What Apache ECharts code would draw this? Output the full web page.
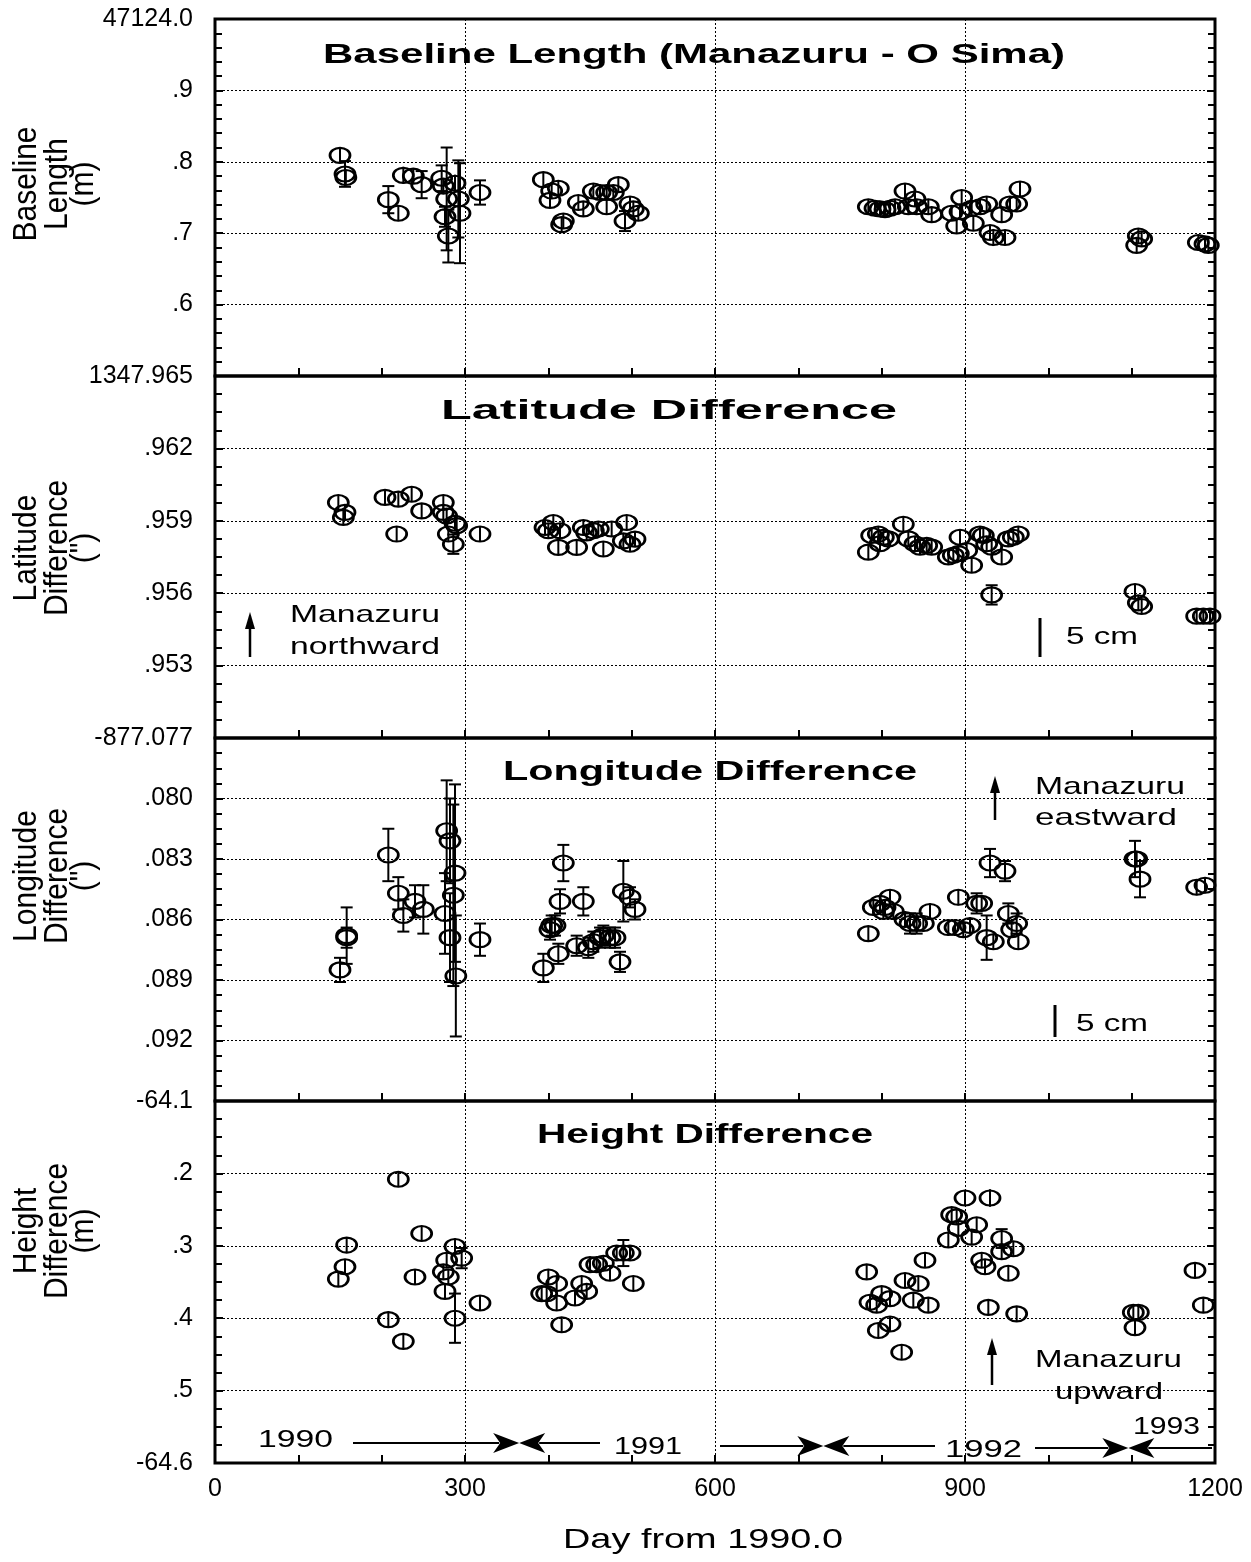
<!DOCTYPE html>
<html>
<head>
<meta charset="utf-8">
<script src="https://cdn.jsdelivr.net/npm/echarts@6/dist/echarts.min.js"></script>
<style>
  html, body { margin: 0; background: #fff; }
  #chart { width: 1251px; height: 1562px; }
</style>
</head>
<body>
<div id="chart"></div>
<script>
// [day from 1990.0, value, error]  values are offsets from the printed base
// baseline length: 47124 + v (m)
const baselineData = [
  [150, 0.809, 0.004], [156, 0.783, 0.018], [157, 0.778, 0.008], [208, 0.747, 0.019],
  [220, 0.728, 0.011], [226, 0.781, 0.012], [238, 0.780, 0.010], [248, 0.768, 0.019],
  [272, 0.777, 0.018], [274, 0.766, 0.010], [278, 0.748, 0.072], [276, 0.723, 0.014],
  [280, 0.696, 0.037], [288, 0.770, 0.012], [292, 0.748, 0.054], [294, 0.728, 0.070],
  [318, 0.757, 0.017],
  [394, 0.775, 0.006], [402, 0.746, 0.006], [404, 0.759, 0.006], [412, 0.763, 0.006],
  [416, 0.712, 0.006], [418, 0.717, 0.006], [436, 0.743, 0.006], [442, 0.734, 0.010],
  [454, 0.759, 0.005], [462, 0.757, 0.005], [470, 0.757, 0.005], [478, 0.757, 0.005],
  [470, 0.737, 0.008], [484, 0.768, 0.005], [492, 0.717, 0.014], [498, 0.741, 0.006],
  [502, 0.734, 0.006], [508, 0.728, 0.006],
  [784, 0.737, 0.004], [792, 0.735, 0.004], [798, 0.734, 0.004], [804, 0.733, 0.004],
  [810, 0.735, 0.004], [816, 0.737, 0.004], [828, 0.759, 0.006], [832, 0.737, 0.005],
  [840, 0.748, 0.005], [842, 0.737, 0.005], [856, 0.737, 0.005], [860, 0.726, 0.005],
  [884, 0.728, 0.005], [890, 0.710, 0.005], [894, 0.730, 0.005], [896, 0.750, 0.007],
  [908, 0.735, 0.005], [910, 0.714, 0.005], [918, 0.737, 0.005], [926, 0.741, 0.005],
  [930, 0.701, 0.005], [934, 0.694, 0.012], [944, 0.726, 0.005], [948, 0.694, 0.005],
  [954, 0.741, 0.005], [962, 0.741, 0.005], [966, 0.762, 0.005],
  [1106, 0.683, 0.004], [1108, 0.696, 0.004], [1112, 0.692, 0.004],
  [1180, 0.687, 0.004], [1188, 0.685, 0.004], [1192, 0.683, 0.004]
];

// latitude difference: 1347 + v (")
const latitudeData = [
  [148, 0.95976, 0.0002], [156, 0.95935, 0.0003], [154, 0.95914, 0.0002], [204, 0.95997, 0.0002],
  [220, 0.95990, 0.0002], [236, 0.96010, 0.0002], [248, 0.95941, 0.0002], [218, 0.95845, 0.0002],
  [274, 0.95976, 0.0003], [274, 0.95935, 0.0002], [278, 0.95920, 0.0002], [288, 0.95890, 0.0002],
  [280, 0.95845, 0.0002], [290, 0.95880, 0.0002], [286, 0.95803, 0.0004], [318, 0.95845, 0.0002],
  [396, 0.95872, 0.0002], [406, 0.95893, 0.0002], [400, 0.95859, 0.0002], [414, 0.95859, 0.0002],
  [412, 0.95790, 0.0002], [434, 0.95790, 0.0002], [442, 0.95872, 0.0002], [454, 0.95859, 0.0002],
  [460, 0.95866, 0.0002], [446, 0.95850, 0.0002], [466, 0.95783, 0.0002], [476, 0.95866, 0.0002],
  [494, 0.95893, 0.0002], [490, 0.95817, 0.0002], [504, 0.95824, 0.0002], [498, 0.95803, 0.0002],
  [784, 0.95770, 0.0002], [788, 0.95839, 0.0002], [796, 0.95845, 0.0002], [802, 0.95832, 0.0002],
  [798, 0.95805, 0.0002], [808, 0.95825, 0.0002], [826, 0.95886, 0.0002], [832, 0.95825, 0.0002],
  [840, 0.95805, 0.0002], [846, 0.95791, 0.0002], [854, 0.95798, 0.0002], [860, 0.95791, 0.0002],
  [880, 0.95750, 0.0002], [886, 0.95757, 0.0002], [892, 0.95764, 0.0002], [894, 0.95832, 0.0002],
  [902, 0.95777, 0.0002], [908, 0.95716, 0.0002], [918, 0.95845, 0.0002], [922, 0.95839, 0.0002],
  [926, 0.95805, 0.0002], [932, 0.95791, 0.0002], [944, 0.95750, 0.0002], [932, 0.95593, 0.0004],
  [952, 0.95825, 0.0002], [958, 0.95832, 0.0002], [964, 0.95845, 0.0002],
  [1104, 0.95607, 0.0002], [1108, 0.95560, 0.0002], [1112, 0.95545, 0.0002],
  [1178, 0.95505, 0.0002], [1186, 0.95505, 0.0002], [1194, 0.95505, 0.0002]
];

// longitude difference: -877 + v (")
const longitudeData = [
  [150, -0.0885, 0.0006], [158, -0.0868, 0.0014], [158, -0.0869, 0.0005], [208, -0.0828, 0.0013],
  [220, -0.0847, 0.0008], [226, -0.0858, 0.0008], [240, -0.0851, 0.0008], [250, -0.0855, 0.0012],
  [276, -0.0857, 0.0020], [278, -0.0816, 0.0025], [282, -0.0821, 0.0021], [282, -0.0869, 0.0022],
  [286, -0.0848, 0.0045], [288, -0.0837, 0.0044], [289, -0.0888, 0.0030], [318, -0.0870, 0.0008],
  [418, -0.0832, 0.0009], [414, -0.0851, 0.0006], [442, -0.0851, 0.0007], [404, -0.0863, 0.0005],
  [408, -0.0863, 0.0005], [402, -0.0865, 0.0005], [412, -0.0877, 0.0005], [394, -0.0884, 0.0007],
  [434, -0.0873, 0.0005], [448, -0.0874, 0.0005], [454, -0.0871, 0.0005], [462, -0.0869, 0.0005],
  [466, -0.0868, 0.0005], [474, -0.0869, 0.0005], [480, -0.0869, 0.0005], [486, -0.0881, 0.0005],
  [490, -0.0846, 0.0015], [498, -0.0849, 0.0005], [504, -0.0855, 0.0005],
  [784, -0.0867, 0.0003], [790, -0.0854, 0.0004], [798, -0.0852, 0.0004], [802, -0.0856, 0.0004],
  [810, -0.0849, 0.0004], [804, -0.0854, 0.0004], [814, -0.0856, 0.0004], [828, -0.0860, 0.0004],
  [834, -0.0862, 0.0005], [842, -0.0862, 0.0005], [850, -0.0862, 0.0004], [858, -0.0856, 0.0004],
  [880, -0.0864, 0.0004], [888, -0.0864, 0.0004], [892, -0.0849, 0.0004], [898, -0.0865, 0.0004],
  [906, -0.0863, 0.0004], [914, -0.0852, 0.0005], [920, -0.0852, 0.0004], [926, -0.0869, 0.0011],
  [934, -0.0871, 0.0004], [930, -0.0832, 0.0007], [948, -0.0836, 0.0005], [952, -0.0857, 0.0005],
  [962, -0.0862, 0.0005], [964, -0.0871, 0.0004], [956, -0.0865, 0.0004],
  [1104, -0.0830, 0.0009], [1106, -0.0830, 0.0004], [1110, -0.0840, 0.0009],
  [1178, -0.0844, 0.0004], [1188, -0.0843, 0.0004]
];

// height difference: -64 + v (m)
const heightData = [
  [220, -0.208, 0.009], [248, -0.283, 0.009], [158, -0.299, 0.009], [156, -0.329, 0.006],
  [148, -0.346, 0.004], [240, -0.343, 0.011], [208, -0.402, 0.011], [226, -0.432, 0.010],
  [288, -0.301, 0.011], [296, -0.317, 0.014], [278, -0.320, 0.005], [274, -0.336, 0.005],
  [280, -0.343, 0.005], [276, -0.363, 0.010], [288, -0.400, 0.034], [318, -0.379, 0.009],
  [392, -0.366, 0.005], [400, -0.343, 0.005], [410, -0.352, 0.005], [398, -0.366, 0.005],
  [410, -0.379, 0.005], [416, -0.409, 0.006], [432, -0.372, 0.005], [440, -0.352, 0.005],
  [446, -0.363, 0.005], [450, -0.326, 0.005], [458, -0.326, 0.005], [466, -0.324, 0.005],
  [474, -0.338, 0.005], [482, -0.310, 0.005], [490, -0.310, 0.018], [498, -0.310, 0.005],
  [502, -0.352, 0.005],
  [782, -0.336, 0.004], [786, -0.378, 0.004], [794, -0.382, 0.004], [800, -0.366, 0.004],
  [810, -0.373, 0.004], [810, -0.408, 0.005], [796, -0.417, 0.006], [824, -0.447, 0.005],
  [828, -0.348, 0.005], [844, -0.352, 0.007], [838, -0.375, 0.007], [856, -0.382, 0.005],
  [852, -0.320, 0.005], [880, -0.292, 0.005], [884, -0.257, 0.005], [890, -0.260, 0.007],
  [900, -0.234, 0.005], [892, -0.276, 0.005], [908, -0.288, 0.005], [914, -0.271, 0.006],
  [920, -0.320, 0.005], [924, -0.329, 0.005], [930, -0.234, 0.012], [944, -0.290, 0.013],
  [944, -0.308, 0.005], [958, -0.304, 0.008], [952, -0.338, 0.005], [928, -0.385, 0.011],
  [962, -0.394, 0.008],
  [1102, -0.392, 0.005], [1108, -0.392, 0.005], [1104, -0.413, 0.005],
  [1176, -0.334, 0.011], [1186, -0.382, 0.010]
];

// tick labels, bottom to top
const baselineTickLabels = ["", ".6", ".7", ".8", ".9", "47124.0"];
const latitudeTickLabels = ["", ".953", ".956", ".959", ".962", "1347.965"];
const longitudeTickLabels = ["", ".092", ".089", ".086", ".083", ".080", "-877.077"];
const heightTickLabels = ["-64.6", ".5", ".4", ".3", ".2", "-64.1"];
const dayTickLabels = ["0", "300", "600", "900", "1200"];

const panelTitles = ["Baseline Length (Manazuru - O Sima)", "Latitude Difference", "Longitude Difference", "Height Difference"];
const panelNames = [["Baseline", "Length", "(m)"], ["Latitude", "Difference", "(\")"], ["Longitude", "Difference", "(\")"], ["Height", "Difference", "(m)"]];
const yearLabels = ["1990", "1991", "1992", "1993"];
const yearMarks = [365, 730, 1096];

const chart = echarts.init(document.getElementById("chart"));

const panels = [
  { top: 19, height: 357, data: baselineData, min: 0.5, max: 1.0, step: 0.1, minor: 5, labels: baselineTickLabels },
  { top: 376, height: 362, data: latitudeData, min: 0.95, max: 0.965, step: 0.003, minor: 4, labels: latitudeTickLabels },
  { top: 738, height: 363, data: longitudeData, min: -0.095, max: -0.077, step: 0.003, minor: 4, labels: longitudeTickLabels },
  { top: 1101, height: 362, data: heightData, min: -0.6, max: -0.1, step: 0.1, minor: 4, labels: heightTickLabels },
];

const black = "#000";
const tickFont = { fontFamily: "Liberation Sans, Arial, sans-serif", fontSize: 25, color: black };
const dotted = { type: [2, 2], color: black, width: 1 };
const tickLine = { color: black, width: 2 };

function renderPoint(params, api) {
  const day = api.value(0), val = api.value(1), err = api.value(2);
  const c = api.coord([day, val]);
  const hi = api.coord([day, val + err]);
  const lo = api.coord([day, val - err]);
  const rx = 10, ry = 7.5;
  const top = Math.min(hi[1], c[1] - ry);
  const bottom = Math.max(lo[1], c[1] + ry);
  const line = { stroke: black, lineWidth: 2 };
  const children = [
    { type: "line", shape: { x1: c[0], y1: top, x2: c[0], y2: bottom }, style: line },
    { type: "circle", x: c[0], y: c[1], scaleX: rx / ry, shape: { cx: 0, cy: 0, r: ry },
      style: { stroke: black, fill: "none", lineWidth: 2.1 } },
  ];
  if (c[1] - hi[1] > ry + 1.5) {
    children.push({ type: "line", shape: { x1: c[0] - 6, y1: hi[1], x2: c[0] + 6, y2: hi[1] }, style: line });
    children.push({ type: "line", shape: { x1: c[0] - 6, y1: lo[1], x2: c[0] + 6, y2: lo[1] }, style: line });
  }
  return { type: "group", children };
}

const option = {
  animation: false,
  backgroundColor: "#fff",
  grid: panels.map((p) => ({
    left: 215, width: 1000, top: p.top, height: p.height,
    show: true, borderColor: black, borderWidth: 3, backgroundColor: "transparent",
  })),
  xAxis: panels.map((p, i) => ({
    gridIndex: i, type: "value", min: 0, max: 1200, interval: 300,
    axisLine: { show: false },
    axisTick: { show: true, inside: true, length: 8, lineStyle: tickLine },
    minorTick: { show: true, splitNumber: 3, length: 8, lineStyle: tickLine },
    splitLine: { show: true, lineStyle: dotted },
    axisLabel: {
      show: i === 3, margin: 14, ...tickFont, fontSize: 25,
      formatter: (v) => dayTickLabels[Math.round(v / 300)],
    },
  })),
  yAxis: panels.map((p, i) => ({
    gridIndex: i, type: "value", min: p.min, max: p.max, interval: p.step,
    axisLine: { show: false },
    axisTick: { show: true, inside: true, length: 8, lineStyle: tickLine },
    minorTick: { show: true, splitNumber: p.minor, length: 7, lineStyle: tickLine },
    splitLine: { show: true, lineStyle: dotted },
    axisLabel: {
      margin: 22, ...tickFont,
      formatter: (v) => p.labels[Math.round((v - p.min) / p.step)],
    },
  })).concat(panels.map((p, i) => ({
    gridIndex: i, type: "value", min: p.min, max: p.max, interval: p.step, position: "right",
    axisLine: { show: false },
    axisTick: { show: true, inside: true, length: 8, lineStyle: tickLine },
    minorTick: { show: true, splitNumber: p.minor, length: 7, lineStyle: tickLine },
    splitLine: { show: false },
    axisLabel: { show: false },
  }))),
  series: panels.map((p, i) => ({
    type: "custom", xAxisIndex: i, yAxisIndex: i, clip: false,
    encode: { x: 0, y: 1 },
    renderItem: renderPoint,
    data: p.data,
  })),
};

chart.setOption(option);

// ---- text and annotations ----
const measure = document.createElement("canvas").getContext("2d");
function textWidth(text, font) {
  measure.font = font;
  return measure.measureText(text).width;
}
function fitText(text, font, left, right, cy) {
  return {
    type: "text", x: left, y: cy, scaleX: (right - left) / textWidth(text, font),
    style: { text, font, fill: black, textAlign: "left", textVerticalAlign: "middle" },
  };
}
// rotated axis name, one element per line, reading bottom to top
function vName(lines, cy, xs, font, thick) {
  return lines.map((t, k) => ({
    type: "text", x: xs[k], y: cy, rotation: Math.PI / 2, scaleY: thick,
    style: { text: t, font, fill: black, textAlign: "center", textVerticalAlign: "middle" },
  }));
}
function upArrow(x, tip, tail) {
  return [
    { type: "line", shape: { x1: x, y1: tip + 10, x2: x, y2: tail }, style: { stroke: black, lineWidth: 2.5 } },
    { type: "polygon", shape: { points: [[x, tip], [x - 5, tip + 17], [x + 5, tip + 17]] }, style: { fill: black } },
  ];
}
function hLine(x1, x2, y) {
  return { type: "line", shape: { x1, y1: y, x2, y2: y }, style: { stroke: black, lineWidth: 2 } };
}
function head(tipX, y, dir) {
  const b = tipX - dir * 26;
  return { type: "polygon", shape: { points: [[tipX, y], [b, y - 10], [b + dir * 7, y], [b, y + 10]] }, style: { fill: black } };
}

const bold = "bold 28px Liberation Sans, Arial, sans-serif";
const plain = "24px Liberation Sans, Arial, sans-serif";
const side = "30px Liberation Sans, Arial, sans-serif";
const nameX = [27, 58, 84];

const px = (day) => chart.convertToPixel({ xAxisIndex: 3 }, day);

const graphics = [
  fitText(panelTitles[0], bold, 323, 1065, 55),
  fitText(panelTitles[1], bold, 441, 897, 411),
  fitText(panelTitles[2], bold, 503, 917, 772),
  fitText(panelTitles[3], bold, 537, 873, 1135),

  ...vName(panelNames[0], 184, nameX, side, 1.12),
  ...vName(panelNames[1], 548, nameX, side, 1.12),
  ...vName(panelNames[2], 876, nameX, side, 1.12),
  ...vName(panelNames[3], 1231, nameX, side, 1.12),

  fitText("Day from 1990.0", "28px Liberation Sans, Arial, sans-serif", 563, 843, 1540),

  // panel 2 notes
  ...upArrow(250, 612, 657),
  fitText("Manazuru", plain, 290, 440, 615),
  fitText("northward", plain, 290, 440, 647),
  { type: "line", shape: { x1: 1040, y1: 618, x2: 1040, y2: 657 }, style: { stroke: black, lineWidth: 3 } },
  fitText("5 cm", plain, 1066, 1138, 637),

  // panel 3 notes
  ...upArrow(995, 776, 820),
  fitText("Manazuru", plain, 1035, 1185, 787),
  fitText("eastward", plain, 1035, 1177, 818),
  { type: "line", shape: { x1: 1055, y1: 1005, x2: 1055, y2: 1037 }, style: { stroke: black, lineWidth: 3 } },
  fitText("5 cm", plain, 1076, 1148, 1024),

  // panel 4 notes
  ...upArrow(992, 1338, 1385),
  fitText("Manazuru", plain, 1035, 1182, 1360),
  fitText("upward", plain, 1055, 1163, 1392),
];

// year boundaries
const y0 = 1443;
const t1 = px(yearMarks[0]), t2 = px(yearMarks[1]), t3 = px(yearMarks[2]);
graphics.push(
  fitText(yearLabels[0], plain, 258, 333, 1440),
  hLine(353, t1 - 20, y0), head(t1, y0, 1), head(t1, y0, -1), hLine(t1 + 20, 600, y0),
  fitText(yearLabels[1], plain, 614, 682, 1447),
  hLine(720, t2 - 20, y0 + 3), head(t2, y0 + 3, 1), head(t2, y0 + 3, -1), hLine(t2 + 20, 935, y0 + 3),
  fitText(yearLabels[2], plain, 945, 1022, 1450),
  hLine(1035, t3 - 20, y0 + 5), head(t3, y0 + 5, 1), head(t3, y0 + 5, -1), hLine(t3 + 20, 1212, y0 + 5),
  fitText(yearLabels[3], plain, 1133, 1200, 1427)
);

chart.setOption({ graphic: graphics });
</script>
</body>
</html>
